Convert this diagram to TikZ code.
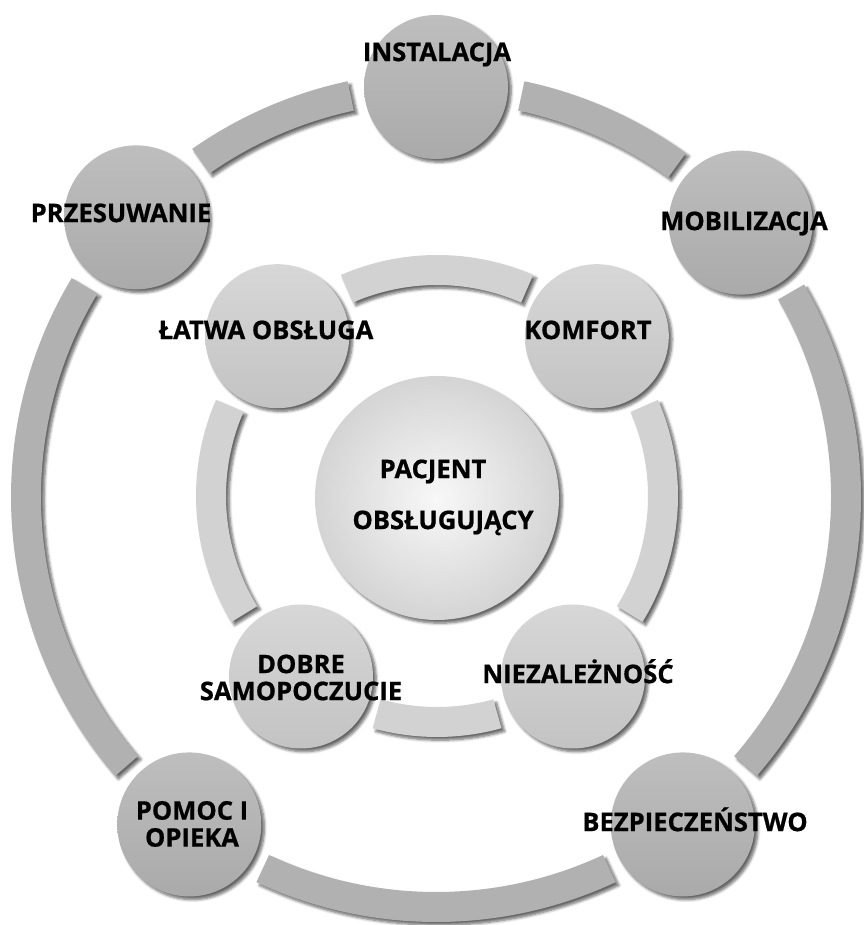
\documentclass[tikz,border=0pt]{standalone}
\usepackage{fontspec}
\setmainfont{Open Sans}[BoldFeatures={FakeBold=0.7}]
\usetikzlibrary{calc}
\usetikzlibrary{shadows.blur}

\definecolor{outerlight}{HTML}{BEBEBE}
\definecolor{outerdark}{HTML}{AAAAAA}
\definecolor{outerband}{HTML}{B1B1B1}
\definecolor{innerlight}{HTML}{D7D7D7}
\definecolor{innerdark}{HTML}{C3C3C3}
\definecolor{innerband}{HTML}{D2D2D2}
\definecolor{hublight}{HTML}{F8F8F8}
\definecolor{hubdark}{HTML}{D4D4D4}

\begin{document}
\begin{tikzpicture}[x=0.5pt,y=0.5pt]
  \tikzset{soft/.style = {blur shadow={shadow xshift=1.6pt,shadow yshift=-1.6pt,shadow blur steps=6,shadow blur radius=1.4pt,shadow opacity=60}}}
  \tikzset{bigdisc/.style = {shape=circle,minimum size=72pt,inner sep=0pt,top color=outerlight,bottom color=outerdark,soft}}
  \tikzset{smalldisc/.style = {shape=circle,minimum size=72pt,inner sep=0pt,top color=innerlight,bottom color=innerdark,soft}}
  \tikzset{hub/.style = {shape=circle,minimum size=122pt,inner sep=0pt,inner color=hublight,outer color=hubdark,soft}}
  \tikzset{word/.style = {font=\bfseries\fontsize{12.8}{13.5}\selectfont,inner sep=0pt,text height=9.1pt,text depth=0pt}}
  \tikzset{words/.style = {font=\bfseries\fontsize{12.8}{13.5}\selectfont,inner sep=0pt,align=center}}

  \useasboundingbox (0,0) rectangle (863,925);

  \coordinate (outer) at (436,428);
  \coordinate (inner) at (437,429);

  % bands of the outer ring
  \foreach \a/\b in {102/125, 149/221, 245/295, 319/390, 54/78}
    \fill[outerband,soft] ($(outer)+(\a:395)$) arc[start angle=\a,end angle=\b,radius=395]
      -- ($(outer)+(\b:425)$) arc[start angle=\b,end angle=\a,radius=425] -- cycle;

  % bands of the inner ring
  \foreach \a/\b in {66.5/113.5, 156.5/211.5, 254.5/285.5, 328.5/383.5}
    \fill[innerband,soft] ($(inner)+(\a:211)$) arc[start angle=\a,end angle=\b,radius=211]
      -- ($(inner)+(\b:241)$) arc[start angle=\b,end angle=\a,radius=241] -- cycle;

  \foreach \name/\ang in {inst/90, mob/42, bezp/-53, pomoc/-127, przes/137}
    \node[bigdisc] (\name) at ($(outer)+(\ang:410)$) {};

  \foreach \name/\ang in {komf/45, latwa/135, dobre/-127, niez/-53}
    \node[smalldisc] (\name) at ($(inner)+(\ang:226)$) {};

  \node[hub] (pac) at (437,427) {};

  \node[word] (tinst) at (437,873) {INSTALACJA};
  \node[word] (tmob) at (744,704) {MOBILIZACJA};
  \node[word] (tbezp) at (695,103) {BEZPIECZEŃSTWO};
  \node[words] (tpomoc) at (192,101) {POMOC I\\OPIEKA};
  \node[word] (tprzes) at (121,712) {PRZESUWANIE};
  \node[word] (tlatwa) at (266,595) {ŁATWA OBSŁUGA};
  \node[word] (tkomf) at (588,595) {KOMFORT};
  \node[word] (tpac) at (433,456) {PACJENT};
  \node[word] (tobs) at (443,405) {OBSŁUGUJĄCY};
  \node[words] (tdobre) at (301,247.5) {DOBRE\\SAMOPOCZUCIE};
  \node[word] (tniez) at (578,251) {NIEZALEŻNOŚĆ};
\end{tikzpicture}
\end{document}
